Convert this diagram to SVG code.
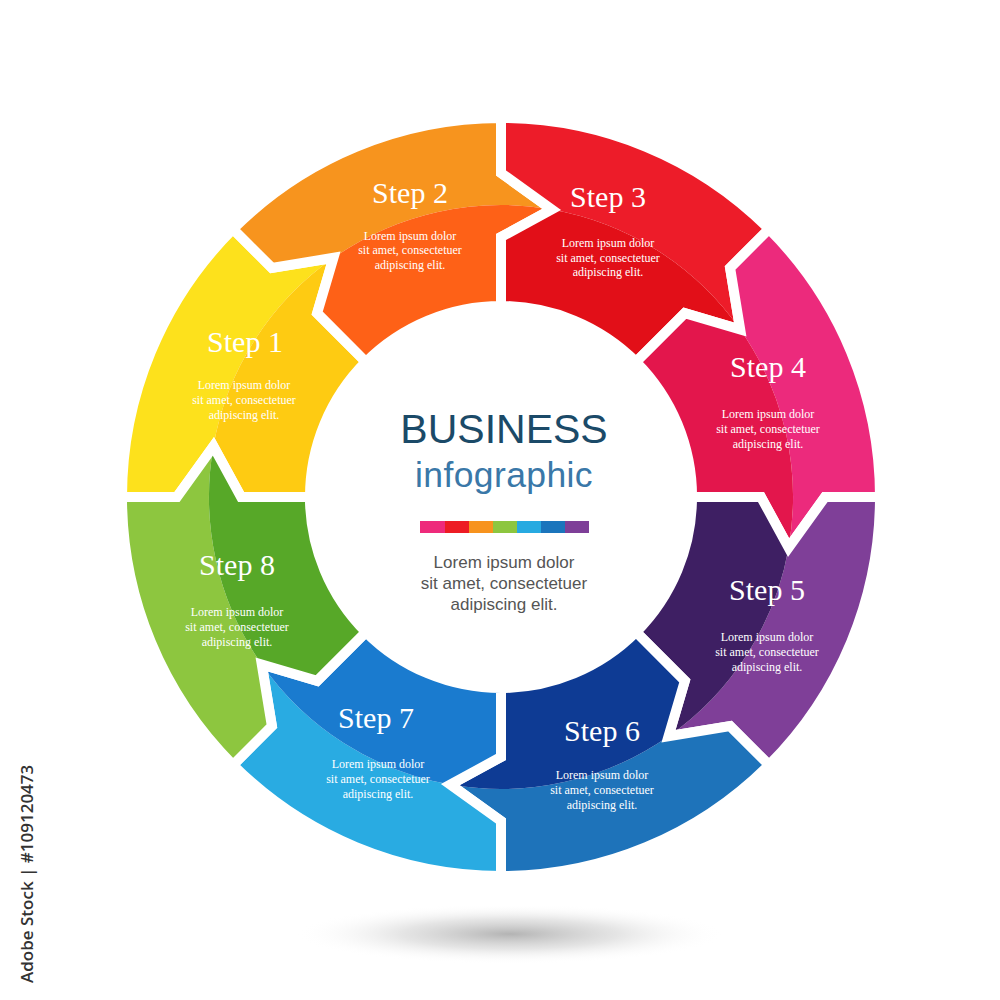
<svg xmlns="http://www.w3.org/2000/svg" xmlns:xlink="http://www.w3.org/1999/xlink" width="1000" height="1000" viewBox="0 0 1000 1000">
<defs>
<radialGradient id="shadow" cx="0.5" cy="0.5" r="0.5">
<stop offset="0" stop-color="#9a9a9a" stop-opacity="0.75"/>
<stop offset="0.5" stop-color="#bdbdbd" stop-opacity="0.4"/>
<stop offset="1" stop-color="#ffffff" stop-opacity="0"/>
</radialGradient>
<path id="segOuter" d="M379,0 A379,379 0 0 1 268,268 L229.1,229.1 L167.5,239.2 A292,292 0 0 0 287.6,50.7 L324,0 Z"/>
<path id="segInner" d="M287.6,50.7 A292,292 0 0 1 167.5,239.2 L183.8,183.8 L135.1,135.1 A191,191 0 0 0 191,0 L260,0 Z"/>
<path id="segLine" d="M379,0 A379,379 0 0 1 268,268 L229.1,229.1 L167.5,239.2 L183.8,183.8 L135.1,135.1 A191,191 0 0 0 191,0 L260,0 L287.6,50.7 L324,0 Z"/>
</defs>
<style>
.edge{fill:none;stroke:#ffffff;stroke-width:10;stroke-linejoin:miter}
.st{font-family:"Liberation Serif","Times New Roman",serif;font-size:30px;fill:#ffffff;text-anchor:middle}
.lo{font-family:"Liberation Serif","Times New Roman",serif;font-size:12px;fill:#ffffff;text-anchor:middle}
.title{font-family:"Liberation Sans",Arial,sans-serif;text-anchor:middle}
.gray{font-family:"Liberation Sans",Arial,sans-serif;font-size:17px;fill:#555555;text-anchor:middle}
</style>
<rect width="1000" height="1000" fill="#ffffff"/>
<ellipse cx="510" cy="934" rx="215" ry="30" fill="url(#shadow)"/>

<g id="step1" transform="translate(501,497) rotate(180)">
<use xlink:href="#segOuter" fill="#FDE11C"/><use xlink:href="#segInner" fill="#FECB12"/><use xlink:href="#segLine" class="edge"/>
</g>
<g id="step2" transform="translate(501,497) rotate(225)">
<use xlink:href="#segOuter" fill="#F7941E"/><use xlink:href="#segInner" fill="#FE6117"/><use xlink:href="#segLine" class="edge"/>
</g>
<g id="step3" transform="translate(501,497) rotate(270)">
<use xlink:href="#segOuter" fill="#ED1C29"/><use xlink:href="#segInner" fill="#E20F18"/><use xlink:href="#segLine" class="edge"/>
</g>
<g id="step4" transform="translate(501,497) rotate(315)">
<use xlink:href="#segOuter" fill="#EC2A7C"/><use xlink:href="#segInner" fill="#E3164C"/><use xlink:href="#segLine" class="edge"/>
</g>
<g id="step5" transform="translate(501,497) rotate(0)">
<use xlink:href="#segOuter" fill="#7F3F98"/><use xlink:href="#segInner" fill="#3E1F63"/><use xlink:href="#segLine" class="edge"/>
</g>
<g id="step6" transform="translate(501,497) rotate(45)">
<use xlink:href="#segOuter" fill="#1E73BA"/><use xlink:href="#segInner" fill="#0E3B94"/><use xlink:href="#segLine" class="edge"/>
</g>
<g id="step7" transform="translate(501,497) rotate(90)">
<use xlink:href="#segOuter" fill="#29ABE2"/><use xlink:href="#segInner" fill="#1A7BCF"/><use xlink:href="#segLine" class="edge"/>
</g>
<g id="step8" transform="translate(501,497) rotate(135)">
<use xlink:href="#segOuter" fill="#8DC63F"/><use xlink:href="#segInner" fill="#57A828"/><use xlink:href="#segLine" class="edge"/>
</g>

<g id="labels">
<text class="st" x="245" y="352">Step 1</text>
<text class="lo" x="244" y="389">Lorem ipsum dolor</text><text class="lo" x="244" y="404">sit amet, consectetuer</text><text class="lo" x="244" y="419">adipiscing elit.</text>
<text class="st" x="410" y="203">Step 2</text>
<text class="lo" x="410" y="240">Lorem ipsum dolor</text><text class="lo" x="410" y="254">sit amet, consectetuer</text><text class="lo" x="410" y="269">adipiscing elit.</text>
<text class="st" x="608" y="207">Step 3</text>
<text class="lo" x="608" y="247">Lorem ipsum dolor</text><text class="lo" x="608" y="262">sit amet, consectetuer</text><text class="lo" x="608" y="276">adipiscing elit.</text>
<text class="st" x="768" y="377">Step 4</text>
<text class="lo" x="768" y="418">Lorem ipsum dolor</text><text class="lo" x="768" y="433">sit amet, consectetuer</text><text class="lo" x="768" y="448">adipiscing elit.</text>
<text class="st" x="767" y="600">Step 5</text>
<text class="lo" x="767" y="641">Lorem ipsum dolor</text><text class="lo" x="767" y="656">sit amet, consectetuer</text><text class="lo" x="767" y="671">adipiscing elit.</text>
<text class="st" x="602" y="741">Step 6</text>
<text class="lo" x="602" y="779">Lorem ipsum dolor</text><text class="lo" x="602" y="794">sit amet, consectetuer</text><text class="lo" x="602" y="809">adipiscing elit.</text>
<text class="st" x="376" y="728">Step 7</text>
<text class="lo" x="378" y="768">Lorem ipsum dolor</text><text class="lo" x="378" y="783">sit amet, consectetuer</text><text class="lo" x="378" y="798">adipiscing elit.</text>
<text class="st" x="237" y="575">Step 8</text>
<text class="lo" x="237" y="616">Lorem ipsum dolor</text><text class="lo" x="237" y="631">sit amet, consectetuer</text><text class="lo" x="237" y="646">adipiscing elit.</text>
</g>

<g id="center">
<text class="title" x="504" y="443" font-size="41" fill="#1B4A68">BUSINESS</text>
<text class="title" x="504" y="487" font-size="35.5" letter-spacing="0.4" fill="#3A78A8">infographic</text>
<rect x="420" y="521" width="25" height="12" fill="#EE2A7B"/>
<rect x="445" y="521" width="24" height="12" fill="#ED1C24"/>
<rect x="469" y="521" width="24" height="12" fill="#F7931E"/>
<rect x="493" y="521" width="24" height="12" fill="#8DC63F"/>
<rect x="517" y="521" width="24" height="12" fill="#27AAE1"/>
<rect x="541" y="521" width="24" height="12" fill="#1B75BC"/>
<rect x="565" y="521" width="24" height="12" fill="#7E3F98"/>
<text class="gray" x="504" y="568">Lorem ipsum dolor</text>
<text class="gray" x="504" y="589">sit amet, consectetuer</text>
<text class="gray" x="504" y="610">adipiscing elit.</text>
</g>

<text x="33" y="983" transform="rotate(-90 33 983)" font-family="'Open Sans','Liberation Sans',sans-serif" font-size="17" font-weight="600" fill="#333333">Adobe Stock | #109120473</text>
</svg>
